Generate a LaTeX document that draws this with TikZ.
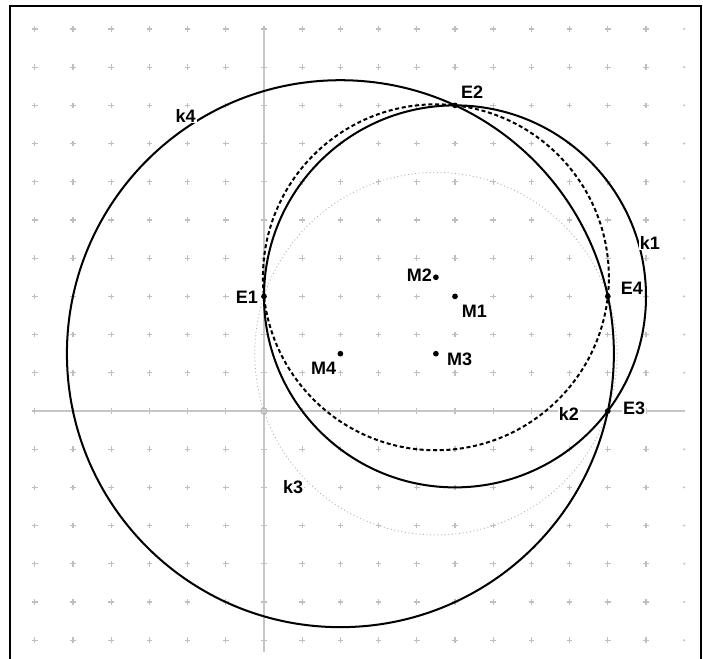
\documentclass[tikz,border=0pt]{standalone}
\usepackage{fontspec}
\setmainfont{Liberation Sans}
\begin{document}
\begin{tikzpicture}[x=1cm,y=1cm,
  gridmark/.style={draw=gray!50,line width=0.9pt},
  axisline/.style={draw=gray!45,line width=1.4pt},
  circ/.style={draw=black,line width=1.5pt},
  dashcirc/.style={draw=black,line width=1.5pt,dash pattern=on 3pt off 2pt},
  dotcirc/.style={draw=gray!60,line width=0.7pt,dotted},
  pt/.style={fill=black},
  lbl/.style={fill=white,inner sep=0.6pt,font=\fontsize{13.4}{16}\selectfont\bfseries}]
\useasboundingbox (-6.911,-6.492) rectangle (11.492,10.759);
% grid marks
\foreach \i in {-6,...,10}{
  \foreach \j in {-6,...,10}{
    \draw[gridmark] (\i-0.075,\j) -- (\i+0.075,\j) (\i,\j-0.075) -- (\i,\j+0.075);
  }
}
\foreach \j in {-6,...,10}{
  \fill[gray!50] (11,\j) circle[radius=0.03];
}
% axes
\coordinate (xl) at (-6,0);
\coordinate (xr) at (11,0);
\coordinate (yb) at (0,-6.3);
\coordinate (yt) at (0,10);
\draw[axisline] (xl) -- (xr);
\draw[axisline] (yb) -- (yt);
\coordinate (O) at (0,0);
\draw[gray!60,line width=0.8pt] (O) circle[radius=0.08];
% frame
\draw[line width=1.5pt] (-6.649,-7) -- (-6.649,10.602) -- (11.44,10.602) -- (11.44,-7);
% points
\coordinate (E1) at (0,3);
\coordinate (E2) at (5,8);
\coordinate (E3) at (9,0);
\coordinate (E4) at (9,3);
\coordinate (M1) at (5,3);
\coordinate (M2) at (4.5,3.5);
\coordinate (M3) at (4.5,1.5);
\coordinate (M4) at (2,1.5);
% circles
\draw[dotcirc] (M3) circle[radius={sqrt(22.5)}];
\draw[dashcirc] (M2) circle[radius={sqrt(20.5)}];
\draw[circ] (M1) circle[radius=5];
\draw[circ] (M4) circle[radius={sqrt(51.25)}];
% dots
\foreach \p in {E1,E2,E3,E4,M1,M2,M3,M4}{
  \fill[pt] (\p) circle[radius=0.075];
}
% labels
\node[lbl] (lE1) at (-0.445,2.98) {E1};
\node[lbl] (lE2) at (5.445,8.35) {E2};
\node[lbl] (lE3) at (9.69,0.08) {E3};
\node[lbl] (lE4) at (9.63,3.21) {E4};
\node[lbl] (lM1) at (5.51,2.62) {M1};
\node[lbl] (lM2) at (4.07,3.55) {M2};
\node[lbl] (lM3) at (5.12,1.34) {M3};
\node[lbl] (lM4) at (1.56,1.11) {M4};
\node[lbl] (lk1) at (10.1,4.4) {k1};
\node[lbl] (lk2) at (7.98,-0.08) {k2};
\node[lbl] (lk3) at (0.76,-1.98) {k3};
\node[lbl] (lk4) at (-2.05,7.72) {k4};
\end{tikzpicture}
\end{document}
